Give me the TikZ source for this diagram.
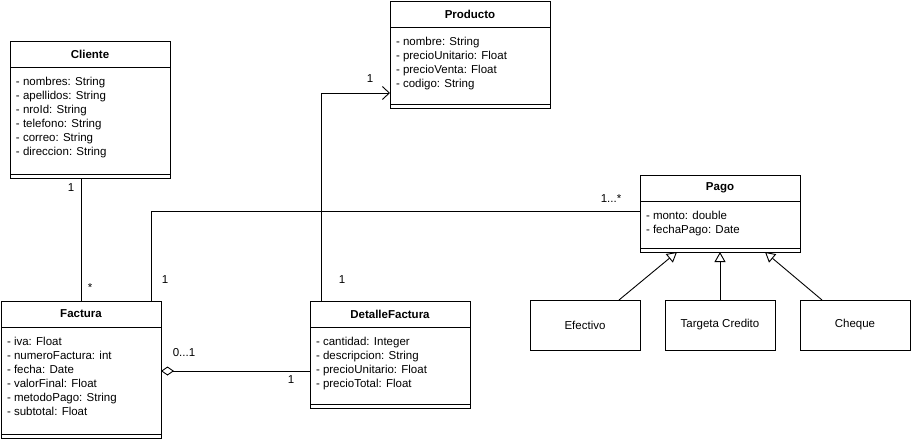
\documentclass[tikz,border=0pt]{standalone}
\usepackage{fontspec}
\setmainfont{Liberation Sans}
\usetikzlibrary{positioning,arrows.meta}

\begin{document}
\begin{tikzpicture}[x=1pt,y=-1pt,line width=0.9pt,
	every node/.style={font=\fontsize{11.5}{14}\selectfont,outer sep=0pt},
	head/.style={draw,anchor=north west,minimum width=160,minimum height=26,inner sep=0pt,font=\fontsize{11.5}{14}\selectfont\bfseries},
	body/.style={draw,minimum width=160,inner sep=0pt},
	attrs/.style={anchor=north west,align=left,inner sep=0pt},
	plain/.style={draw,anchor=north west,minimum width=110,minimum height=50,inner sep=0pt},
	mult/.style={inner sep=0pt},
	inherit/.style={-{Triangle[open,length=10pt,width=11pt]}},
	aggr/.style={{Diamond[open,length=13pt,width=9pt]}-},
	barb/.style={-{Straight Barb[length=7pt,width=13pt]}},]
		\useasboundingbox (0,0) rectangle (911,439);
		% classes
		\node[head] (cliente) at (10,41) {Cliente};
		\node[body,below=0pt of cliente,minimum height=111] (clientebody) {};
		\node[attrs] (clienteattr) at ([xshift=6,yshift=-10]clientebody.north west) {- nombres: String\\- apellidos: String\\- nroId: String\\- telefono: String\\- correo: String\\- direccion: String};
		
		\node[head] (producto) at (390,1) {Producto};
		\node[body,below=0pt of producto,minimum height=81] (productobody) {};
		\node[attrs] (productoattr) at ([xshift=6,yshift=-10]productobody.north west) {- nombre: String\\- precioUnitario: Float\\- precioVenta: Float\\- codigo: String};
		
		\node[head] (pago) at (640,175) {Pago};
		\node[body,below=0pt of pago,minimum height=51] (pagobody) {};
		\node[attrs] (pagoattr) at ([xshift=6,yshift=-10]pagobody.north west) {- monto: double\\- fechaPago: Date};
		
		\node[head] (factura) at (1,301) {Factura};
		\node[body,below=0pt of factura,minimum height=111] (facturabody) {};
		\node[attrs] (facturaattr) at ([xshift=6,yshift=-10]facturabody.north west) {- iva: Float\\- numeroFactura: int\\- fecha: Date\\- valorFinal: Float\\- metodoPago: String\\- subtotal: Float};
		
		\node[head] (detalle) at (310,301) {DetalleFactura};
		\node[body,below=0pt of detalle,minimum height=81] (detallebody) {};
		\node[attrs] (detalleattr) at ([xshift=6,yshift=-10]detallebody.north west) {- cantidad: Integer\\- descripcion: String\\- precioUnitario: Float\\- precioTotal: Float};
		
		\foreach \c in {clientebody,productobody,pagobody,facturabody,detallebody}
			\draw ([yshift=4]\c.south west) -- ([yshift=4]\c.south east);
		
		\node[plain] (efectivo) at (530,300) {Efectivo};
		\node[plain] (tarjeta) at (665,300) {Targeta Credito};
		\node[plain] (cheque) at (800,300) {Cheque};
		
		% connect the nodes
		\draw (factura.north) -- (factura.north |- clientebody.south);
		\draw ([xshift=70]factura.north) |- ([yshift=-10]pagobody.north west);
		\draw[barb] ([xshift=-69]detalle.north) |- ([yshift=-66]productobody.north west);
		\draw[aggr] ([yshift=-44]facturabody.north east) -- ([yshift=-44]detallebody.north west);
		\draw[inherit] ([xshift=34]efectivo.north) -- ([xshift=-43]pagobody.south);
		\draw[inherit] (tarjeta.north) -- (pagobody.south);
		\draw[inherit] ([xshift=-33]cheque.north) -- ([xshift=45]pagobody.south);
		
		% multiplicities
		\node[mult] (m1) at (71,188) {1};
		\node[mult] (m2) at (90,288) {*};
		\node[mult] (m3) at (165,280) {1};
		\node[mult] (m4) at (611,199) {1...*};
		\node[mult] (m5) at (370,79) {1};
		\node[mult] (m6) at (342,280) {1};
		\node[mult] (m7) at (184,353) {0...1};
		\node[mult] (m8) at (291,380) {1};
	\end{tikzpicture}
\end{document}
